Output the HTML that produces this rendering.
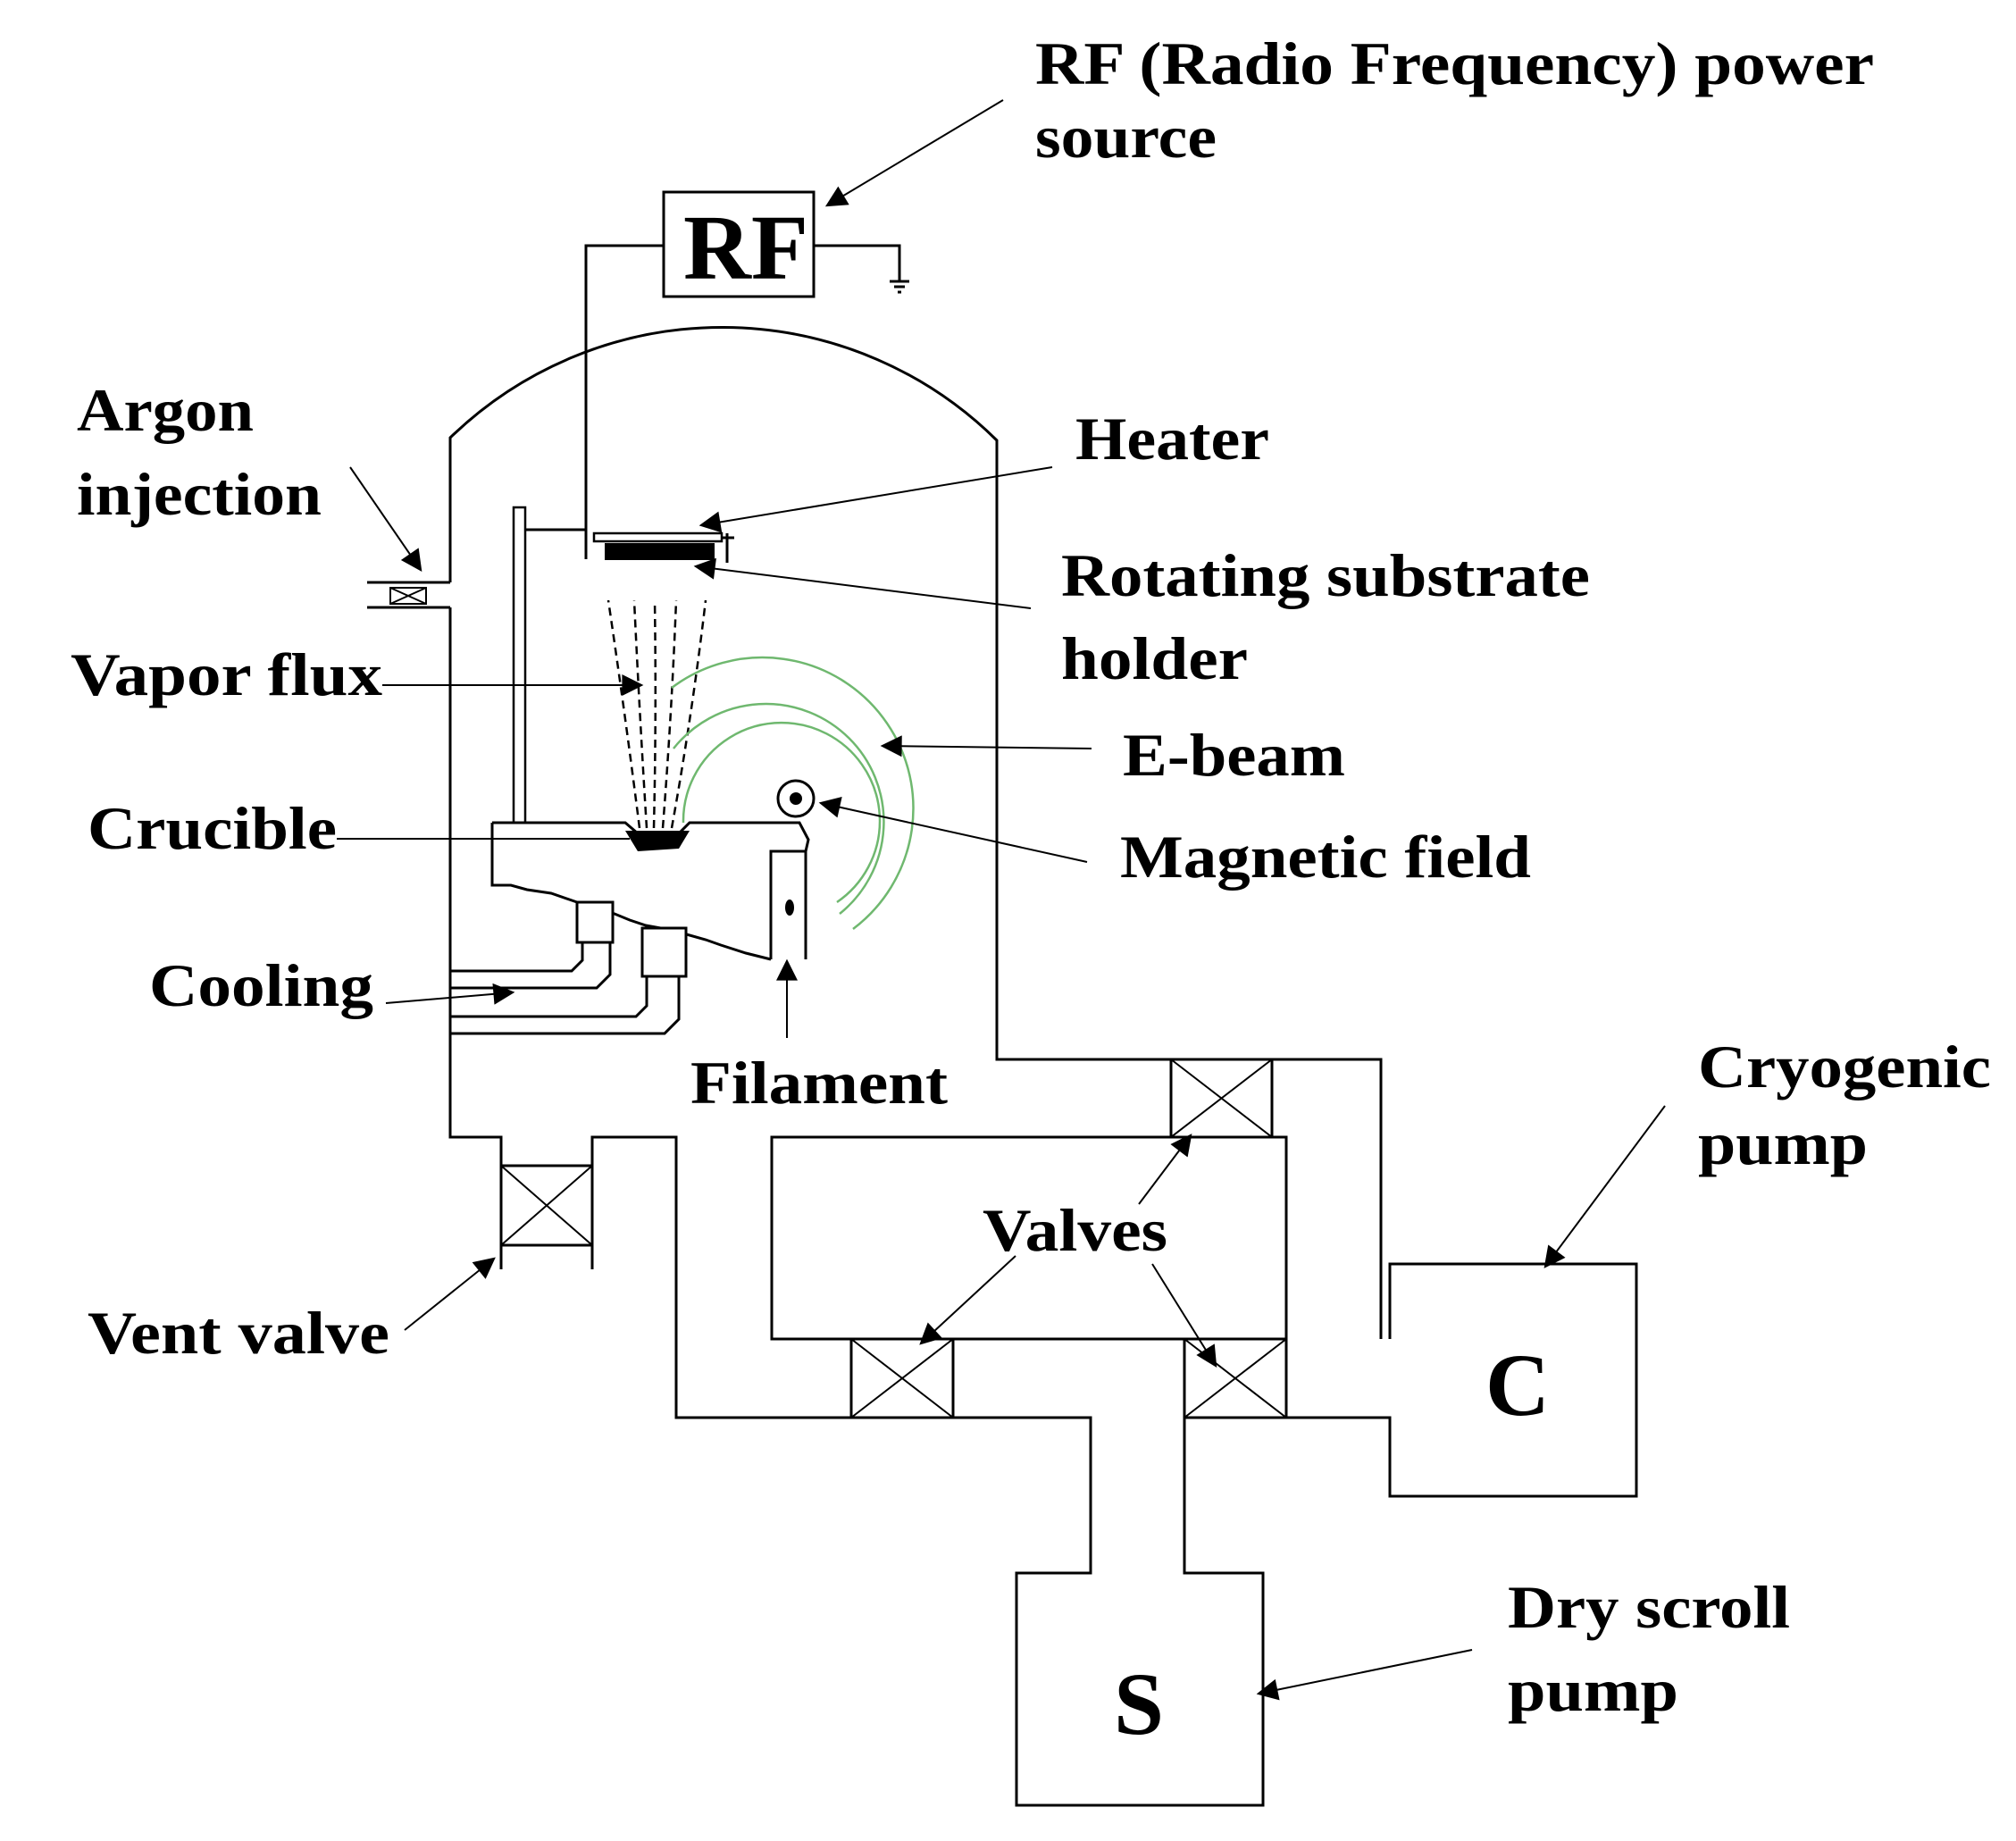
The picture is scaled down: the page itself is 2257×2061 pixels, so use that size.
<!DOCTYPE html>
<html><head><meta charset="utf-8"><style>html,body{margin:0;padding:0;background:#fff}svg{display:block}</style></head>
<body>
<svg width="2257" height="2061" viewBox="0 0 2257 2061" xmlns="http://www.w3.org/2000/svg">
<defs>
<marker id="ah" viewBox="0 0 10 10" refX="9" refY="5" markerWidth="9" markerHeight="9" orient="auto" markerUnits="userSpaceOnUse">
<path d="M0,0 L10,5 L0,10 z" fill="#000"/></marker>
<marker id="a2" viewBox="0 0 10 10" refX="9" refY="5" markerWidth="30" markerHeight="24" orient="auto" markerUnits="userSpaceOnUse">
<path d="M0,0 L10,5 L0,10 z" fill="#000"/></marker>
</defs>
<g fill="none" stroke="#000" stroke-width="3">
<!-- RF -->
<rect x="743" y="215" width="168" height="117"/>
<polyline points="743,275 656,275 656,626"/>
<polyline points="911,275 1007,275 1007,315"/>
<line x1="996" y1="315" x2="1018" y2="315"/><line x1="1001" y1="321" x2="1013" y2="321"/><line x1="1005" y1="327" x2="1009" y2="327"/>
<!-- chamber -->
<path d="M504,652 L504,490 A437 437 0 0 1 1116,493 L1116,1186 L1546,1186 L1546,1499"/>
<polyline points="504,680 504,1273 561,1273 561,1421"/>
<line x1="411" y1="652" x2="504" y2="652"/><line x1="411" y1="680" x2="504" y2="680"/>
<rect x="437" y="658" width="40" height="18" stroke-width="2"/>
<line x1="437" y1="658" x2="477" y2="676" stroke-width="2"/><line x1="477" y1="658" x2="437" y2="676" stroke-width="2"/>
<!-- vent valve -->
<polyline points="663,1421 663,1273 757,1273 757,1587 953,1587"/>
<rect x="561" y="1305" width="102" height="89"/>
<line x1="561" y1="1305" x2="663" y2="1394" stroke-width="2"/><line x1="663" y1="1305" x2="561" y2="1394" stroke-width="2"/>
<!-- inner rect & valves -->
<rect x="864" y="1273" width="576" height="226"/>
<rect x="1311" y="1186" width="113" height="87"/>
<line x1="1311" y1="1186" x2="1424" y2="1273" stroke-width="2"/><line x1="1424" y1="1186" x2="1311" y2="1273" stroke-width="2"/>
<rect x="953" y="1499" width="114" height="88"/>
<line x1="953" y1="1499" x2="1067" y2="1587" stroke-width="2"/><line x1="1067" y1="1499" x2="953" y2="1587" stroke-width="2"/>
<rect x="1326" y="1499" width="114" height="88"/>
<line x1="1326" y1="1499" x2="1440" y2="1587" stroke-width="2"/><line x1="1440" y1="1499" x2="1326" y2="1587" stroke-width="2"/>
<polyline points="1067,1587 1221,1587 1221,1761 1138,1761 1138,2021 1414,2021 1414,1761 1326,1761 1326,1587"/>
<polyline points="1440,1587 1556,1587 1556,1675 1832,1675 1832,1415 1556,1415 1556,1499"/>
<!-- post, arm, heater -->
<rect x="575" y="568" width="13" height="353" stroke-width="2.5"/>
<line x1="588" y1="593" x2="656" y2="593"/>
<rect x="665" y="597" width="143" height="9" stroke-width="2.5"/>
<line x1="814" y1="597" x2="814" y2="630"/><line x1="808" y1="602" x2="822" y2="602"/>
<!-- platform -->
<polyline points="551,921 700,921 714,933 760,933 772,921 895,921 905,940 902,953 902,1074"/>
<polyline points="863,1074 863,953 902,953"/>
<polyline points="551,921 551,991 572,991 590,996 617,1000 646,1010 688,1023 705,1030 723,1036 745,1040 765,1045 790,1052 807,1058 835,1067 863,1074"/>
<rect x="646" y="1010" width="40" height="45" fill="#fff"/>
<rect x="719" y="1039" width="49" height="54" fill="#fff"/>
<polyline points="504,1087 640,1087 652,1075 652,1055"/>
<polyline points="504,1106 668,1106 683,1091 683,1055"/>
<polyline points="504,1138 712,1138 724,1126 724,1093"/>
<polyline points="504,1157 744,1157 760,1141 760,1093"/>
<!-- vapor flux -->
<g stroke-dasharray="9,6" stroke-width="2.5">
<path d="M716,927 Q700,800 681,672"/><path d="M724,927 Q716,800 710,672"/><path d="M732,927 Q735,800 733,672"/><path d="M742,927 Q752,800 757,672"/><path d="M752,927 Q775,800 790,672"/>
</g>
<!-- e-beam -->
<g stroke="#6fb86f" stroke-width="2.5">
<path d="M752,770 A168 168 0 1 1 955,1040"/>
<path d="M754,838 A132 132 0 1 1 940,1023"/>
<path d="M765,921 A110 110 0 1 1 937,1010"/>
</g>
<circle cx="891" cy="894" r="20"/>
<!-- arrows -->
<g stroke-width="2" marker-end="url(#a2)">
<line x1="1123" y1="112" x2="926" y2="230"/>
<line x1="392" y1="523" x2="471" y2="638"/>
<line x1="1178" y1="523" x2="785" y2="588"/>
<line x1="1154" y1="681" x2="779" y2="634"/>
<line x1="428" y1="767" x2="718" y2="767"/>
<line x1="1222" y1="838" x2="988" y2="835"/>
<line x1="1217" y1="965" x2="919" y2="899"/>
<line x1="432" y1="1123" x2="574" y2="1111"/>
<line x1="881" y1="1162" x2="881" y2="1076"/>
<line x1="1275" y1="1348" x2="1333" y2="1271"/>
<line x1="1137" y1="1406" x2="1031" y2="1504"/>
<line x1="1290" y1="1415" x2="1361" y2="1529"/>
<line x1="453" y1="1489" x2="553" y2="1409"/>
<line x1="1864" y1="1238" x2="1730" y2="1418"/>
<line x1="1648" y1="1847" x2="1409" y2="1896"/>
</g>
<line x1="377" y1="939" x2="705" y2="939" stroke-width="2"/>
</g>
<polygon points="700,930 772,930 760,950 714,953" fill="#000"/>
<rect x="677" y="608" width="119" height="19" fill="#000"/>
<polygon points="780,608 800,608 800,632" fill="#000"/>
<circle cx="891" cy="894" r="7" fill="#000"/>
<ellipse cx="884" cy="1016" rx="5" ry="9" fill="#000"/>
<g font-family="Liberation Serif, serif" font-weight="bold" fill="#000" font-size="68" lengthAdjust="spacingAndGlyphs">
<text x="765" y="312" font-size="104" textLength="140" lengthAdjust="spacingAndGlyphs">RF</text>
<text x="1159" y="94" textLength="939" lengthAdjust="spacingAndGlyphs">RF (Radio Frequency) power</text>
<text x="1159" y="176" textLength="203" lengthAdjust="spacingAndGlyphs">source</text>
<text x="86" y="482" textLength="198" lengthAdjust="spacingAndGlyphs">Argon</text>
<text x="86" y="576" textLength="274" lengthAdjust="spacingAndGlyphs">injection</text>
<text x="1204" y="514" textLength="217" lengthAdjust="spacingAndGlyphs">Heater</text>
<text x="1188" y="667" textLength="592" lengthAdjust="spacingAndGlyphs">Rotating substrate</text>
<text x="1188" y="760" textLength="209" lengthAdjust="spacingAndGlyphs">holder</text>
<text x="79" y="778" textLength="349" lengthAdjust="spacingAndGlyphs">Vapor flux</text>
<text x="1257" y="868" textLength="249" lengthAdjust="spacingAndGlyphs">E-beam</text>
<text x="98" y="950" textLength="279" lengthAdjust="spacingAndGlyphs">Crucible</text>
<text x="1254" y="982" textLength="460" lengthAdjust="spacingAndGlyphs">Magnetic field</text>
<text x="167" y="1126" textLength="251" lengthAdjust="spacingAndGlyphs">Cooling</text>
<text x="773" y="1235" textLength="288" lengthAdjust="spacingAndGlyphs">Filament</text>
<text x="1901" y="1217" textLength="328" lengthAdjust="spacingAndGlyphs">Cryogenic</text>
<text x="1901" y="1303" textLength="190" lengthAdjust="spacingAndGlyphs">pump</text>
<text x="1100" y="1400" textLength="207" lengthAdjust="spacingAndGlyphs">Valves</text>
<text x="98" y="1515" textLength="338" lengthAdjust="spacingAndGlyphs">Vent valve</text>
<text x="1663" y="1584" font-size="100" textLength="72" lengthAdjust="spacingAndGlyphs">C</text>
<text x="1247" y="1941" font-size="100" textLength="56" lengthAdjust="spacingAndGlyphs">S</text>
<text x="1688" y="1822" textLength="316" lengthAdjust="spacingAndGlyphs">Dry scroll</text>
<text x="1688" y="1915" textLength="191" lengthAdjust="spacingAndGlyphs">pump</text>
</g>
</svg>
</body></html>
